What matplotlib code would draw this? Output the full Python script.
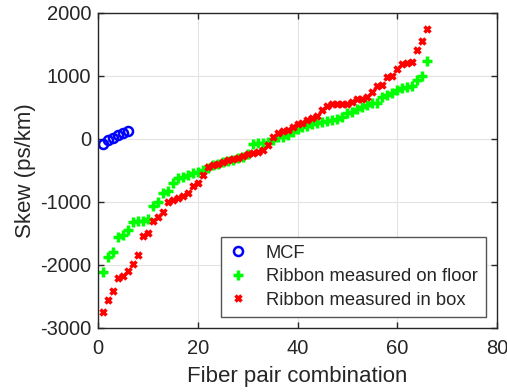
#!/usr/bin/env python

import matplotlib
matplotlib.use('Agg')
import matplotlib.pyplot as plt

# MCF skew
mcf_x = [1, 2, 3, 4, 5, 6]
mcf_y = [-80, -20, 20, 60, 90, 120]

# ribbon, measured on floor
floor_x = list(range(1, 67))
floor_y = [-2110, -1870, -1800, -1560, -1525, -1445, -1310, -1300, -1295, -1270,
           -1060, -995, -860, -820, -705, -625, -610, -570, -545, -520,
           -490, -460, -420, -400, -370, -350, -330, -300, -280, -240,
           -80, -70, -68, -42, -16, 26, 37, 63, 117, 153,
           185, 206, 233, 249, 275, 291, 301, 323, 354, 407,
           434, 471, 513, 540, 566, 577, 661, 698, 735, 778,
           804, 830, 846, 937, 1000, 1243]

# ribbon, measured in box
box_x = list(range(1, 67))
box_y = [-2740, -2555, -2415, -2210, -2175, -2095, -1990, -1840, -1540, -1487,
         -1297, -1233, -1155, -995, -968, -942, -905, -862, -741, -703,
         -571, -440, -410, -390, -360, -340, -320, -300, -270, -245,
         -220, -200, -175, -90, 30, 100, 125, 145, 195, 240,
         260, 300, 330, 370, 460, 525, 550, 550, 550, 550,
         592, 635, 635, 672, 751, 846, 857, 989, 1000, 1106,
         1185, 1201, 1227, 1413, 1556, 1741]

xticks = [0, 20, 40, 60, 80]
yticks = [-3000, -2000, -1000, 0, 1000, 2000]

plt.rcParams['font.family'] = ['Liberation Sans', 'DejaVu Sans']
plt.rcParams['axes.unicode_minus'] = False

fig = plt.figure(figsize=(5.07, 3.92), dpi=100)
ax = fig.add_axes([0.1933, 0.1633, 0.787, 0.8036])

ax.plot(mcf_x, mcf_y, 'o', color=(0, 0, 1), mfc='none', ms=6.5, mew=1.8, label='MCF')
ax.plot(floor_x, floor_y, '+', color=(0, 1, 0), ms=6.5, mew=2.5, label='Ribbon measured on floor')
ax.plot(box_x, box_y, 'x', color=(1, 0, 0), ms=5, mew=2.5, label='Ribbon measured in box')

ax.set_xlim(0, 80)
ax.set_ylim(-3000, 2000)
ax.set_xticks(xticks)
ax.set_yticks(yticks)
ax.grid(True, color='#e3e3e3', linewidth=0.8)
ax.set_axisbelow(True)
ax.tick_params(direction='in', top=True, right=True, labelsize=14.5,
               colors='#262626', length=4, width=1)
ax.tick_params(axis='x', pad=8)
ax.tick_params(axis='y', pad=5)
for s in ax.spines.values():
    s.set_color('#262626')
    s.set_linewidth(1)

ax.set_xlabel('Fiber pair combination', fontsize=16, color='#262626', labelpad=6)
ax.set_ylabel('Skew (ps/km)', fontsize=16, color='#262626', labelpad=3)

leg = ax.legend(loc='lower right', bbox_to_anchor=(0.9724, 0.035), borderaxespad=0,
                fontsize=13.2, fancybox=False, framealpha=1, edgecolor='#555555',
                handlelength=1.0, handletextpad=1.0, borderpad=0.45,
                labelspacing=0.35, numpoints=1)
leg.get_frame().set_linewidth(1)
for t in leg.get_texts():
    t.set_color('#262626')

plt.savefig('out.png', dpi=100)
